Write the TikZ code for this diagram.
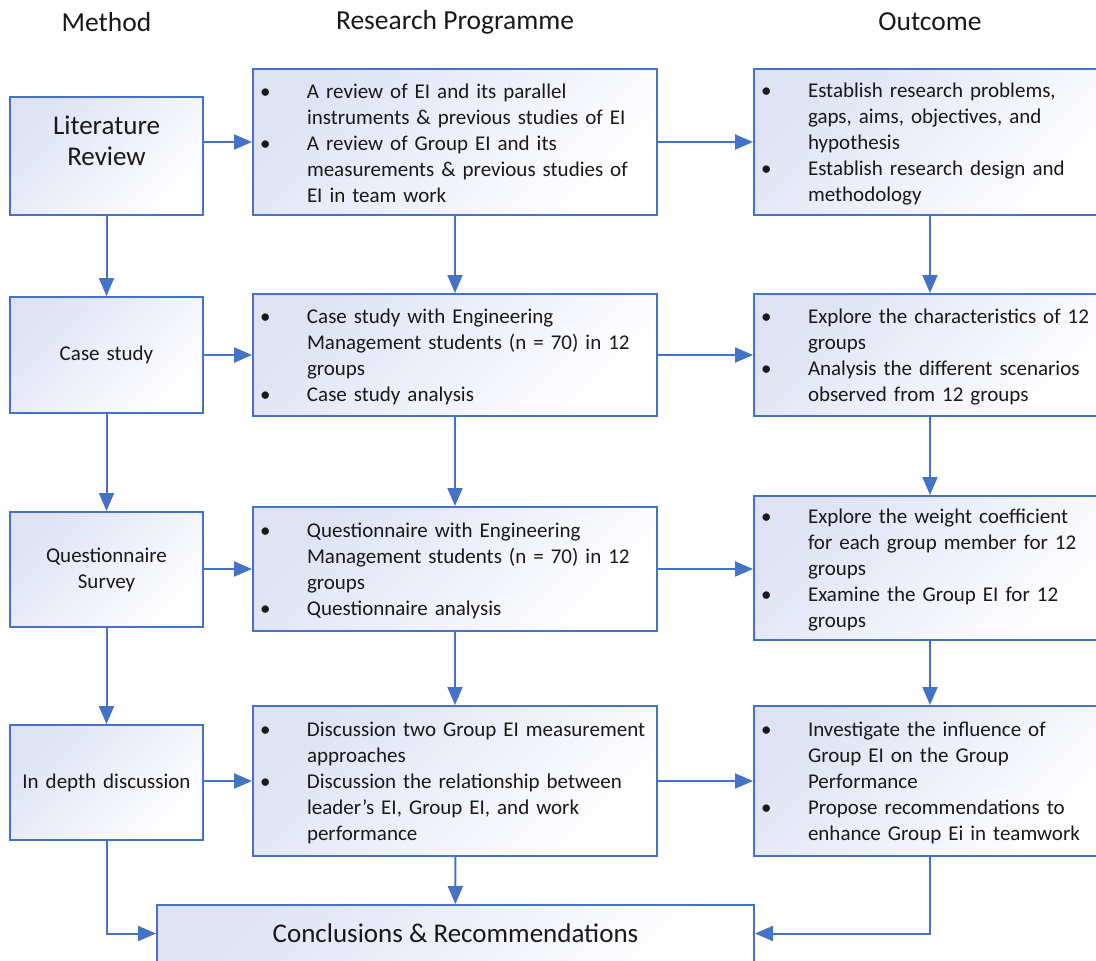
\documentclass[tikz,border=0pt]{standalone}
\usepackage{fontspec}
\setmainfont{Carlito}
\usetikzlibrary{arrows.meta}

\definecolor{boxblue}{RGB}{68,114,196}
\definecolor{boxtint}{RGB}{222,226,243}
\definecolor{txtgray}{RGB}{25,25,25}

\newcommand\bitem[1]{\par\hangindent=47pt\hangafter=1\noindent\makebox[47pt][l]{\textbullet}#1\par}

\begin{document}
\begin{tikzpicture}[x=1pt,y=-1pt]

\def\colA{106.5}
\def\colB{455}
\def\colC{930}

\tikzset{box/.style = {draw=boxblue, line width=2pt, top color=boxtint, bottom color=white, shading angle=45, text=txtgray, inner xsep=7pt, inner ysep=0pt}}
\tikzset{method/.style = {box, text width=179pt, align=center, font=\fontsize{21}{26}\selectfont}}
\tikzset{prog/.style = {box, text width=390pt, align=left, font=\fontsize{21}{26}\selectfont, execute at end node={\vspace{8pt}}}}
\tikzset{outc/.style = {box, text width=338pt, align=left, font=\fontsize{21}{26}\selectfont, execute at end node={\vspace{8pt}}}}
\tikzset{head/.style = {text=txtgray, font=\fontsize{27.5}{32}\selectfont}}
\tikzset{conn/.style = {draw=boxblue, line width=2pt, -{Triangle[length=18pt,width=15pt]}}}

\clip (0,0) rectangle (1096,961);
\useasboundingbox (0,0) rectangle (1096,961);

\node[head] (H1) at (\colA,22) {Method};
\node[head] (H2) at (\colB,22) {Research Programme};
\node[head] (H3) at (\colC,22) {Outcome};

\node[method, minimum height=118pt, font=\fontsize{27}{31}\selectfont] (L1) at (\colA,156) {Literature\\Review\par\vspace{30pt}};
\node[method, minimum height=116pt] (L2) at (\colA,355) {Case study};
\node[method, minimum height=115pt] (L3) at (\colA,569.5) {Questionnaire\\Survey};
\node[method, minimum height=115pt] (L4) at (\colA,782.5) {In depth discussion};

\node[prog, minimum height=146pt] (M1) at (\colB,142) {%
\bitem{A review of EI and its parallel\newline instruments \& previous studies of EI}
\bitem{A review of Group EI and its\newline measurements \& previous studies of\newline EI in team work}};
\node[prog, minimum height=122pt] (M2) at (\colB,355) {%
\bitem{Case study with Engineering\newline Management students (n = 70) in 12\newline groups}
\bitem{Case study analysis}};
\node[prog, minimum height=124pt] (M3) at (\colB,569) {%
\bitem{Questionnaire with Engineering\newline Management students (n = 70) in 12\newline groups}
\bitem{Questionnaire analysis}};
\node[prog, minimum height=150pt] (M4) at (\colB,781) {%
\bitem{Discussion two Group EI measurement\newline approaches}
\bitem{Discussion the relationship between\newline leader’s EI, Group EI, and work\newline performance}};

\node[outc, minimum height=146pt] (R1) at (\colC,142) {%
\bitem{Establish research problems,\newline gaps, aims, objectives, and\newline hypothesis}
\bitem{Establish research design and\newline methodology}};
\node[outc, minimum height=122pt] (R2) at (\colC,355) {%
\bitem{Explore the characteristics of 12\newline groups}
\bitem{Analysis the different scenarios\newline observed from 12 groups}};
\node[outc, minimum height=144pt] (R3) at (\colC,568) {%
\bitem{Explore the weight coefficient\newline for each group member for 12\newline groups}
\bitem{Examine the Group EI for 12\newline groups}};
\node[outc, minimum height=150pt] (R4) at (\colC,781) {%
\bitem{Investigate the influence of\newline Group EI on the Group\newline Performance}
\bitem{Propose recommendations to\newline enhance Group Ei in teamwork}};

\node[box, minimum width=597pt, minimum height=57pt, font=\fontsize{27}{32}\selectfont] (C) at (455.5,933.5) {Conclusions \& Recommendations};

\draw[conn] (L1) -- (L2);
\draw[conn] (L2) -- (L3);
\draw[conn] (L3) -- (L4);
\draw[conn] (L4.south) |- (C.west);

\draw[conn] (M1) -- (M2);
\draw[conn] (M2) -- (M3);
\draw[conn] (M3) -- (M4);
\draw[conn] (M4) -- (C);

\draw[conn] (R1) -- (R2);
\draw[conn] (R2) -- (R3);
\draw[conn] (R3) -- (R4);
\draw[conn] (R4.south) |- (C.east);

\draw[conn] (M1.west -| L1.east) -- (M1.west);
\draw[conn] (M2.west -| L2.east) -- (M2.west);
\draw[conn] (M3.west -| L3.east) -- (M3.west);
\draw[conn] (M4.west -| L4.east) -- (M4.west);

\draw[conn] (M1.east) -- (R1.west);
\draw[conn] (M2.east) -- (R2.west);
\draw[conn] (M3.east) -- (M3.east -| R3.west);
\draw[conn] (M4.east) -- (R4.west);

\end{tikzpicture}
\end{document}
